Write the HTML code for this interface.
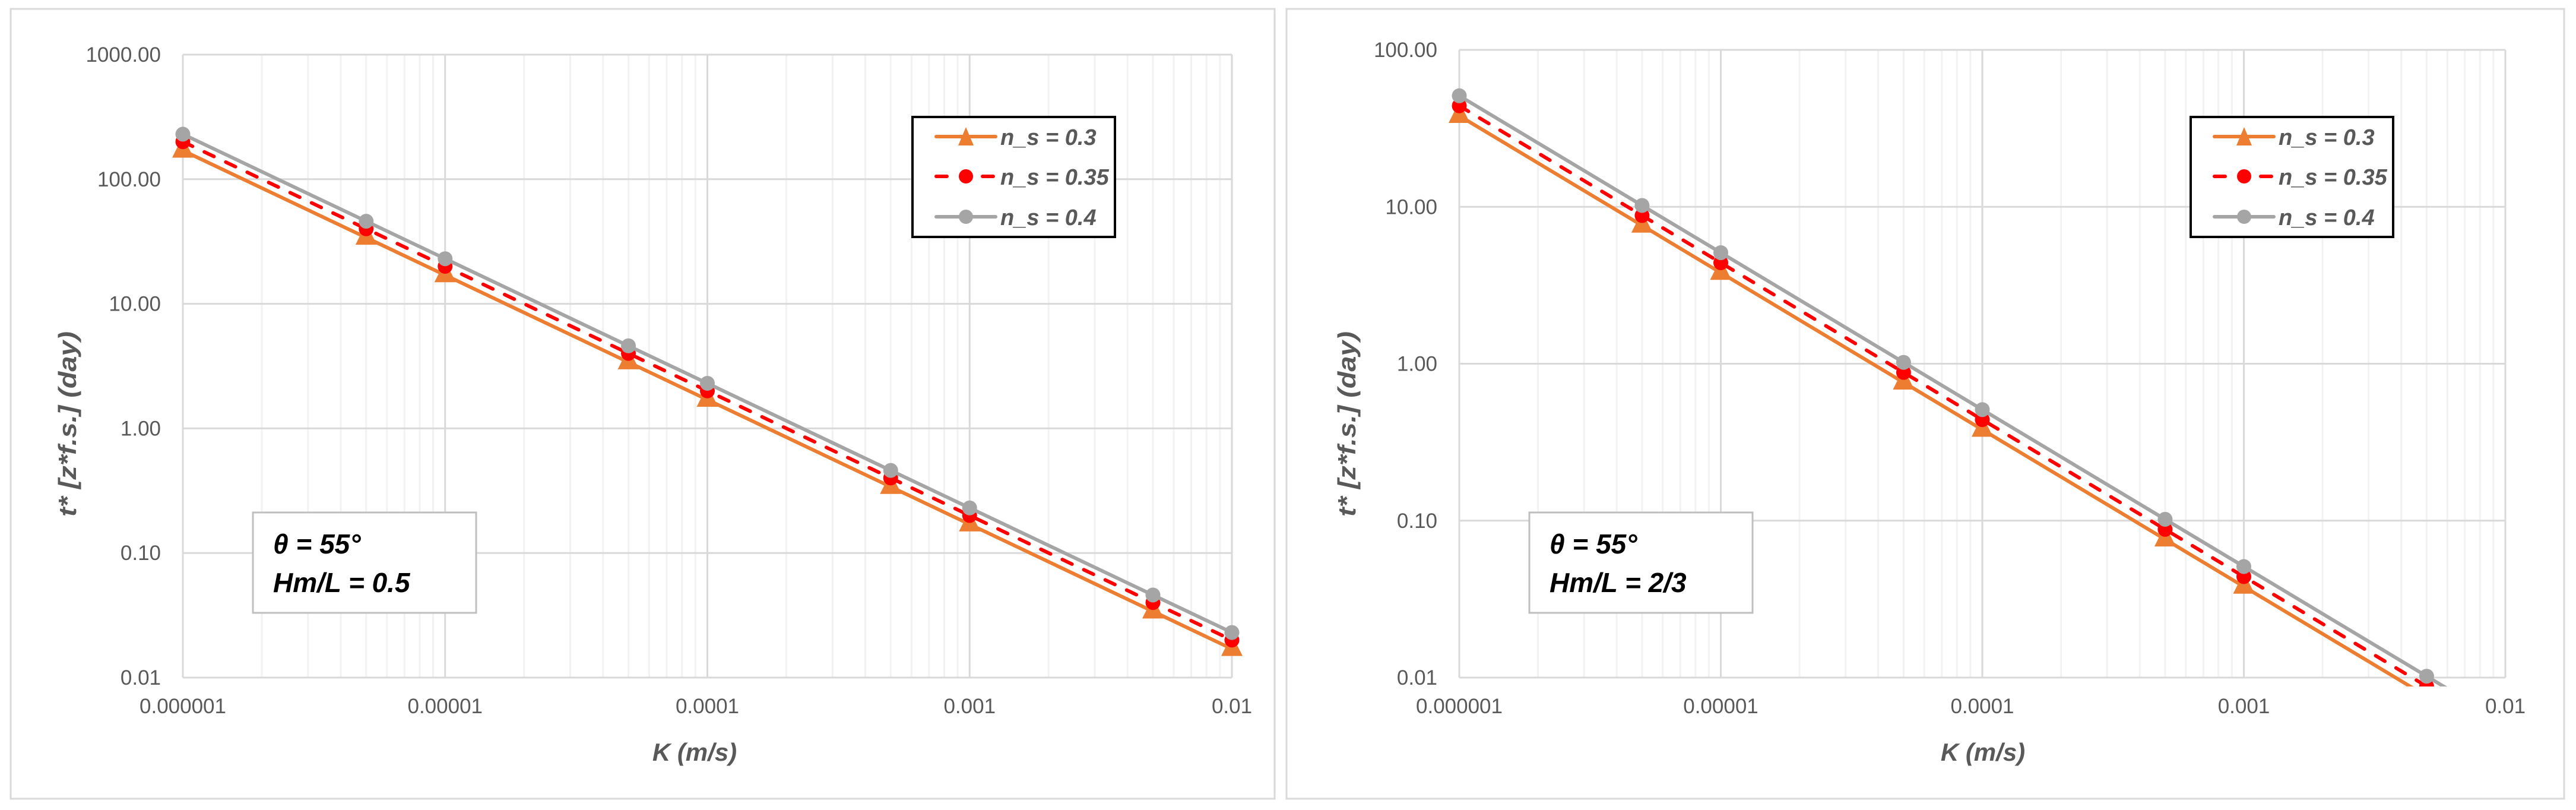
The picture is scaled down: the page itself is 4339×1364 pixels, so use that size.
<!DOCTYPE html>
<html><head><meta charset="utf-8">
<style>
html,body{margin:0;padding:0;background:#fff;}
svg{display:block;font-family:"Liberation Sans",sans-serif;}
</style></head>
<body>
<svg id="root" width="4339" height="1364" viewBox="0 0 4339 1364" xmlns="http://www.w3.org/2000/svg">
<rect x="0" y="0" width="4339" height="1364" fill="#fff"/>
</svg>
<script>
const kValues = [0.000001, 0.000005, 0.00001, 0.00005, 0.0001, 0.0005, 0.001, 0.005, 0.01];
const leftNs03 = [170, 34, 17, 3.4, 1.7, 0.34, 0.17, 0.034, 0.017];
const leftNs035 = [200, 40, 20, 4, 2, 0.4, 0.2, 0.04, 0.02];
const leftNs04 = [230, 46, 23, 4.6, 2.3, 0.46, 0.23, 0.046, 0.023];
const rightNs03 = [38, 7.6, 3.8, 0.76, 0.38, 0.076, 0.038, 0.0076, 0.0038];
const rightNs035 = [44, 8.8, 4.4, 0.88, 0.44, 0.088, 0.044, 0.0088, 0.0044];
const rightNs04 = [51, 10.2, 5.1, 1.02, 0.51, 0.102, 0.051, 0.0102, 0.0051];
const xTickLabels = ["0.000001", "0.00001", "0.0001", "0.001", "0.01"];
const leftYTickLabels = ["0.01", "0.10", "1.00", "10.00", "100.00", "1000.00"];
const rightYTickLabels = ["0.01", "0.10", "1.00", "10.00", "100.00"];
const seriesNames = ["n_s = 0.3", "n_s = 0.35", "n_s = 0.4"];

const NS = "http://www.w3.org/2000/svg";
const root = document.getElementById('root');
function mk(tag, attrs, parent) {
  const e = document.createElementNS(NS, tag);
  for (const k in attrs) e.setAttribute(k, attrs[k]);
  (parent || root).appendChild(e);
  return e;
}

function drawChart(cfg) {
  const g = mk('g', {});
  
  
  const frame = mk('rect', {x: cfg.fx, y: 15, width: cfg.fw, height: 1330, fill: '#fff', stroke: '#d9d9d9', 'stroke-width': 3}, g);
  
  
  const L = cfg.px0, R = cfg.px1, T = cfg.py0, B = cfg.py1;
  const yMinExp = -2, yMaxExp = yMinExp + cfg.yLabels.length - 1;
  const xMinExp = -6, xMaxExp = -2;
  const xs = v => L + (Math.log10(v) - xMinExp) / (xMaxExp - xMinExp) * (R - L);
  const ys = v => B - (Math.log10(v) - yMinExp) / (yMaxExp - yMinExp) * (B - T);
  for (let e = xMinExp; e < xMaxExp; e++) {
    for (let m = 2; m <= 9; m++) {
      const x = xs(m * Math.pow(10, e));
      const l = mk('line', {x1: x, y1: T, x2: x, y2: B, stroke: '#f2f2f2', 'stroke-width': 3}, g);
      
      
    }
  }
  for (let e = xMinExp; e <= xMaxExp; e++) {
    const x = xs(Math.pow(10, e));
    const l = mk('line', {x1: x, y1: T, x2: x, y2: B, stroke: '#d9d9d9', 'stroke-width': 3}, g);
    
    
    const t = mk('text', {x: x, y: B + 60, 'text-anchor': 'middle', 'font-size': 35, fill: '#595959'}, g);
    t.textContent = xTickLabels[e - xMinExp];
    
    
  }
  for (let i = 0; i < cfg.yLabels.length; i++) {
    const y = ys(Math.pow(10, yMinExp + i));
    const l = mk('line', {x1: L, y1: y, x2: R, y2: y, stroke: '#d9d9d9', 'stroke-width': 3}, g);
    
    
    const t = mk('text', {x: L - 37, y: y + 12, 'text-anchor': 'end', 'font-size': 35, fill: '#595959'}, g);
    t.textContent = cfg.yLabels[i];
    
    
  }
  const cid = cfg.name + '-clip';
  const cp = mk('clipPath', {id: cid}, g);
  mk('rect', {x: L - 30, y: T - 30, width: R - L + 60, height: B - T + 45}, cp);
  const sg = mk('g', {'clip-path': 'url(#' + cid + ')'}, g);
  const styles = [
    {color: '#ed7d31', dash: null, marker: 'tri'},
    {color: '#ff0000', dash: '18 22', marker: 'circ'},
    {color: '#a5a5a5', dash: null, marker: 'circ'}
  ];
  [0, 1, 2].forEach(si => {
    const vals = cfg.series[si], st = styles[si];
    const pts = kValues.map((k, i) => xs(k).toFixed(1) + ',' + ys(vals[i]).toFixed(1)).join(' ');
    const pl = mk('polyline', {points: pts, fill: 'none', stroke: st.color, 'stroke-width': 6, 'stroke-linecap': 'round', 'stroke-linejoin': 'round'}, sg);
    if (st.dash) pl.setAttribute('stroke-dasharray', st.dash);
    
    
    kValues.forEach((k, i) => {
      const x = xs(k), y = ys(vals[i]);
      let m;
      if (st.marker === 'tri') {
        m = mk('polygon', {points: `${x},${y - 24} ${x - 18},${y + 12} ${x + 18},${y + 12}`, fill: st.color}, sg);
      } else {
        m = mk('circle', {cx: x, cy: y, r: 12.5, fill: st.color}, sg);
      }
      
      
    });
  });
  const yt = mk('text', {x: 0, y: 0, transform: `translate(${cfg.ytx},714) rotate(-90)`, 'text-anchor': 'middle', 'font-size': 42, 'font-weight': 'bold', 'font-style': 'italic', fill: '#595959', textLength: 312, lengthAdjust: 'spacingAndGlyphs'}, g);
  yt.textContent = 't* [z*f.s.] (day)';
  
  
  const xt = mk('text', {x: cfg.xtx, y: 1281, 'text-anchor': 'middle', 'font-size': 42, 'font-weight': 'bold', 'font-style': 'italic', fill: '#595959'}, g);
  xt.textContent = 'K (m/s)';
  
  
  const lg = mk('g', {}, g);
  
  
  const lx = cfg.lx;
  mk('rect', {x: lx, y: 197, width: 341, height: 202, fill: '#fff', stroke: '#000', 'stroke-width': 4}, lg);
  [230, 297, 365].forEach((ry, si) => {
    const st = styles[si];
    const e = mk('g', {}, lg);
    
    
    const ln = mk('line', {x1: lx + 40, y1: ry, x2: lx + 140, y2: ry, stroke: st.color, 'stroke-width': 6, 'stroke-linecap': 'round'}, e);
    if (st.dash) ln.setAttribute('stroke-dasharray', '18 60');
    if (st.marker === 'tri') mk('polygon', {points: `${lx + 90},${ry - 16} ${lx + 77},${ry + 15} ${lx + 103},${ry + 15}`, fill: st.color}, e);
    else mk('circle', {cx: lx + 90, cy: ry, r: 12, fill: st.color}, e);
    const tx = mk('text', {x: lx + 148, y: ry + 14, 'font-size': 38, 'font-weight': 'bold', 'font-style': 'italic', fill: '#595959'}, e);
    tx.textContent = seriesNames[si];
  });
  const an = mk('g', {}, g);
  
  
  mk('rect', {x: cfg.ax, y: 863, width: 376, height: 169, fill: '#fff', stroke: '#bfbfbf', 'stroke-width': 3}, an);
  const a1 = mk('text', {x: cfg.ax + 34, y: 932, 'font-size': 46, 'font-weight': 'bold', 'font-style': 'italic', fill: '#000'}, an);
  a1.textContent = 'θ = 55°';
  const a2 = mk('text', {x: cfg.ax + 34, y: 997, 'font-size': 46, 'font-weight': 'bold', 'font-style': 'italic', fill: '#000'}, an);
  a2.textContent = cfg.annot;
}

drawChart({name: 'left-chart', fx: 18, fw: 2129, px0: 308, px1: 2075, py0: 92, py1: 1141,
  yLabels: leftYTickLabels, series: [leftNs03, leftNs035, leftNs04], ytx: 128, xtx: 1170, lx: 1537, ax: 426, annot: 'Hm/L = 0.5'});
drawChart({name: 'right-chart', fx: 2167, fw: 2152, px0: 2458, px1: 4220, py0: 84, py1: 1141,
  yLabels: rightYTickLabels, series: [rightNs03, rightNs035, rightNs04], ytx: 2283, xtx: 3340, lx: 3690, ax: 2576, annot: 'Hm/L = 2/3'});
</script>
</body></html>
